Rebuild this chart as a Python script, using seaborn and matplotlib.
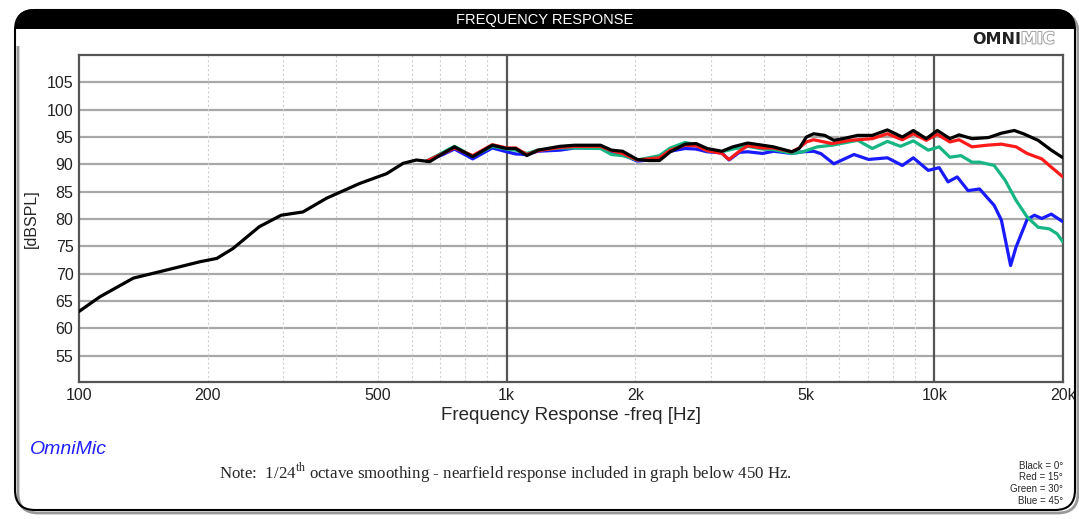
import matplotlib
matplotlib.use("Agg")
import matplotlib.pyplot as plt
import matplotlib.patheffects as pe
from matplotlib.patches import FancyBboxPatch, Rectangle
from matplotlib.ticker import FixedLocator, NullFormatter
import numpy as np
import pandas as pd
import seaborn as sns

# 0 deg (black) - full range
black_freq = [100, 112, 134, 155, 192, 210, 229, 264, 297, 334, 379, 453, 524, 573, 615, 661,
              710, 755, 833, 926, 1000, 1050, 1115, 1183, 1333, 1443, 1658, 1759, 1867, 2020,
              2145, 2277, 2414, 2614, 2774, 2945, 3186, 3380, 3662, 3968, 4210, 4645, 4830,
              5024, 5222, 5545, 5822, 6117, 6621, 7161, 7770, 8421, 8935, 9577, 10167, 10878,
              11430, 12253, 13396, 14354, 15386, 16160, 17487, 18774, 20000]
black_db = [63.1, 65.8, 69.2, 70.4, 72.2, 72.8, 74.6, 78.6, 80.7, 81.3, 83.8, 86.5, 88.3, 90.2,
            90.8, 90.5, 92.0, 93.2, 91.4, 93.5, 92.9, 92.9, 91.6, 92.6, 93.3, 93.5, 93.5, 92.6,
            92.4, 90.9, 90.7, 90.7, 92.3, 93.7, 93.8, 92.9, 92.4, 93.2, 93.9, 93.5, 93.2, 92.3,
            92.9, 95.0, 95.6, 95.3, 94.4, 94.7, 95.3, 95.3, 96.3, 95.0, 96.2, 94.7, 96.2, 94.7,
            95.4, 94.7, 94.9, 95.7, 96.2, 95.6, 94.4, 92.6, 91.2]

# 15 deg (red)
red_freq = [650, 710, 755, 833, 926, 1000, 1050, 1115, 1183, 1333, 1443, 1658, 1759, 1867, 2020,
            2145, 2277, 2414, 2614, 2774, 2945, 3186, 3312, 3500, 3662, 3968, 4210, 4645, 4830,
            5024, 5222, 5766, 6363, 7161, 7770, 8421, 8935, 9577, 10167, 10878, 11430, 12253,
            13262, 14354, 15536, 16480, 17840, 18774, 20000]
red_db = [90.6, 92.0, 93.0, 91.6, 93.6, 93.0, 93.0, 91.8, 92.5, 93.1, 93.3, 93.3, 92.5, 92.0, 90.8,
          91.0, 91.2, 92.6, 93.5, 93.4, 92.5, 92.0, 90.9, 92.4, 93.4, 93.0, 93.0, 92.3, 93.0,
          94.1, 94.5, 93.8, 94.4, 94.7, 95.6, 94.5, 95.6, 94.4, 95.5, 94.1, 94.5, 93.2,
          93.5, 93.7, 93.2, 92.0, 91.0, 89.5, 87.7]

# 30 deg (green)
green_freq = [650, 710, 755, 833, 926, 1000, 1050, 1115, 1183, 1333, 1443, 1658, 1759, 1867, 2020,
              2145, 2277, 2414, 2614, 2774, 2945, 3186, 3380, 3662, 3968, 4210, 4645, 4925, 5326,
              5766, 6621, 7161, 7770, 8338, 8935, 9680, 10267, 10878, 11544, 12253, 12762, 13806,
              14645, 15536, 16480, 17487, 18588, 19380, 20000]
green_db = [90.6, 92.2, 93.3, 91.5, 93.3, 92.8, 92.6, 92.0, 92.6, 93.0, 93.0, 92.9, 91.8, 91.6, 90.8,
            91.2, 91.6, 93.0, 94.0, 93.6, 92.5, 92.3, 92.8, 93.3, 92.8, 92.7, 92.0, 92.3, 93.2,
            93.5, 94.4, 92.9, 94.2, 93.3, 94.3, 92.6, 93.2, 91.3, 91.6, 90.4, 90.4, 89.8,
            87.1, 83.4, 80.4, 78.5, 78.2, 77.3, 75.8]

# 45 deg (blue)
blue_freq = [650, 710, 755, 833, 926, 1000, 1050, 1115, 1183, 1333, 1443, 1658, 1759, 1867, 2020,
             2145, 2277, 2414, 2614, 2774, 2945, 3186, 3312, 3500, 3662, 3968, 4210, 4645, 4930,
             5222, 5436, 5822, 6490, 7022, 7770, 8421, 8935, 9680, 10267, 10770, 11317, 11993,
             12762, 13806, 14354, 15083, 15536, 16480, 17150, 17840, 18774, 20000]
blue_db = [90.6, 91.8, 92.8, 91.0, 93.0, 92.3, 91.9, 91.8, 92.4, 92.6, 93.0, 93.0, 92.2, 91.8, 90.6,
           90.8, 91.3, 92.4, 92.9, 92.8, 92.3, 92.1, 90.8, 92.2, 92.3, 92.0, 92.4, 92.0, 92.3,
           92.4, 91.95, 90.1, 91.8, 90.9, 91.2, 89.8, 91.2, 88.9, 89.4, 86.8, 87.7, 85.2,
           85.5, 82.5, 79.8, 71.5, 74.9, 79.9, 80.7, 80.1, 80.9, 79.5]

y_ticks = [55, 60, 65, 70, 75, 80, 85, 90, 95, 100, 105]
x_ticks = [100, 200, 500, 1000, 2000, 5000, 10000, 20000]
x_labels = ["100", "200", "500", "1k", "2k", "5k", "10k", "20k"]
legend_lines = ["Black = 0°", "Red = 15°", "Green = 30°", "Blue = 45°"]

df = pd.concat([
    pd.DataFrame({"freq": blue_freq, "db": blue_db, "angle": "45"}),
    pd.DataFrame({"freq": green_freq, "db": green_db, "angle": "30"}),
    pd.DataFrame({"freq": red_freq, "db": red_db, "angle": "15"}),
    pd.DataFrame({"freq": black_freq, "db": black_db, "angle": "0"}),
])
palette = {"45": "#1a1aff", "30": "#17b584", "15": "#ff1a1a", "0": "#000000"}

sns.set_style("white")
plt.rcParams["font.family"] = ["Liberation Sans", "DejaVu Sans"]

W, H = 1079, 519
fig = plt.figure(figsize=(W / 100, H / 100), dpi=100)

# frame and header (pixel coords -> inches)
def px(x, y):
    return x / 100, (H - y) / 100

hx, hy = px(15, 44)
header = FancyBboxPatch((hx, hy), 10.6, 0.35, boxstyle="round,pad=0,rounding_size=0.2",
                        transform=fig.dpi_scale_trans, fc="black", ec="none", zorder=1)
fig.add_artist(header)
wx, wy = px(15.5, 46)
fig.add_artist(Rectangle((wx, wy), 10.59, 0.165, transform=fig.dpi_scale_trans,
                         fc="white", ec="none", zorder=1.1))
sx, sy = px(18, 513)
shadow = FancyBboxPatch((sx, sy), 10.6, 5.0, boxstyle="round,pad=0,rounding_size=0.2",
                        transform=fig.dpi_scale_trans, fc="none", ec="#9a9a9a", lw=2, zorder=0.9)
fig.add_artist(shadow)
bx, by = px(15, 510)
border = FancyBboxPatch((bx, by), 10.6, 5.0, boxstyle="round,pad=0,rounding_size=0.2",
                        transform=fig.dpi_scale_trans, fc="none", ec="black", lw=1.5, zorder=1.2)
fig.add_artist(border)
fig.text(545 / W, 1 - 20 / H, "FREQUENCY RESPONSE", color="white", fontsize=10.5,
         ha="center", va="center", zorder=2)

# OMNIMIC logo
fig.text(1021 / W, 1 - 39 / H, "OMNI", fontsize=11.5, fontweight="bold", color="#222222",
         family="DejaVu Sans", ha="right", va="center", zorder=2)
fig.text(1021 / W, 1 - 39 / H, "MIC", fontsize=11.5, fontweight="bold", color="white",
         family="DejaVu Sans", ha="left", va="center", zorder=2,
         path_effects=[pe.withStroke(linewidth=1.3, foreground="#999999")])

ax = fig.add_axes([79 / W, 1 - 382 / H, (1063 - 79) / W, (382 - 55) / H])
ax.set_xscale("log")
sns.lineplot(data=df, x="freq", y="db", hue="angle", hue_order=["45", "30", "15", "0"],
             palette=palette, estimator=None, sort=False, lw=2.3, legend=False, ax=ax, zorder=3)

ax.set_xlim(100, 20000)
ax.set_ylim(50.2, 110)
ax.set_yticks(y_ticks)
ax.xaxis.set_major_locator(FixedLocator(x_ticks))
ax.set_xticklabels(x_labels)
minor = [f for f in list(range(200, 1000, 100)) + list(range(2000, 10000, 1000))]
ax.xaxis.set_minor_locator(FixedLocator(minor))
ax.xaxis.set_minor_formatter(NullFormatter())
ax.tick_params(axis="both", length=0, labelsize=11.5, colors="#222222", pad=4)
ax.tick_params(axis="x", which="minor", length=0)

for y in y_ticks:
    ax.axhline(y, color="#a8a8a8", lw=1.6, zorder=1)
for f in minor:
    ax.axvline(f, color="#d0d0d0", lw=0.8, ls=(0, (2, 2)), zorder=1)
for f in [1000, 10000]:
    ax.axvline(f, color="#555555", lw=1.6, zorder=1)
for s in ax.spines.values():
    s.set_color("#555555")
    s.set_linewidth(1.6)

ax.set_xlabel("Frequency Response -freq [Hz]", fontsize=13.5, labelpad=3)
ax.set_ylabel("[dBSPL]", fontsize=11.5, labelpad=6)

fig.text(30 / W, 1 - 449 / H, "OmniMic", fontsize=14, style="italic", color="#2020ff",
         ha="left", va="center")
plt.rcParams["mathtext.fontset"] = "custom"
plt.rcParams["mathtext.rm"] = "Liberation Serif"
fig.text(506 / W, 1 - 473 / H,
         r"Note:  1/24$^{\mathrm{th}}$ octave smoothing - nearfield response included in graph below 450 Hz.",
         fontsize=12.2, family="Liberation Serif", ha="center", va="center")
for i, t in enumerate(legend_lines):
    fig.text(1063 / W, 1 - (466 + 11.5 * i) / H, t, fontsize=7, ha="right", va="center")

fig.savefig("out.png", dpi=100)
